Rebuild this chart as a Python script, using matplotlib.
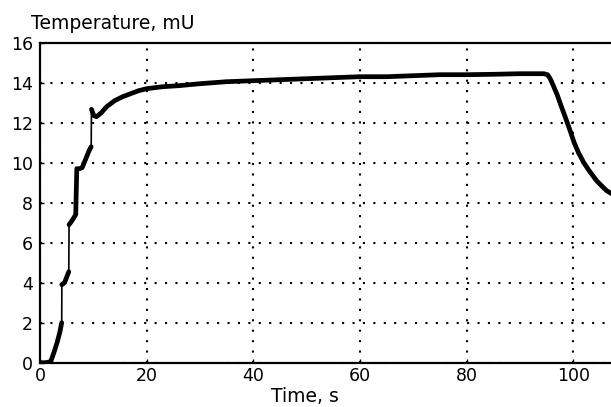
import numpy as np
import matplotlib
matplotlib.use("Agg")
import matplotlib.pyplot as plt

plt.rcParams['font.family'] = ['DejaVu Sans']

time_s = [0.0, 1.0, 2.0, 2.6, 3.2, 3.7, 4.07, 4.1, 4.6, 5.4, 5.45, 6.0, 6.7, 6.9, 7.4, 7.9, 8.6, 9.2, 9.6, 9.65,
          10.1, 10.6, 11.5, 12.5, 14.0, 15.5, 17.0, 18.5, 20.0, 23.0, 26.0, 30.0, 35.0, 40.0, 45.0, 50.0,
          55.0, 60.0, 65.0, 70.0, 75.0, 80.0, 85.0, 90.0, 93.0, 94.5, 95.2, 95.7, 96.2, 97.0, 97.8, 98.5,
          99.3, 100.2, 101.0, 102.0, 103.0, 104.4, 105.5, 106.3, 107.2]
temp_mu = [0.0, 0.0, 0.05, 0.5, 1.0, 1.5, 2.0, 3.9, 4.0, 4.55, 6.9, 7.1, 7.4, 9.7, 9.7, 9.75, 10.2, 10.6, 10.8, 12.67,
           12.35, 12.3, 12.5, 12.8, 13.1, 13.3, 13.45, 13.6, 13.7, 13.8, 13.85, 13.95, 14.05, 14.1, 14.15, 14.2,
           14.25, 14.3, 14.3, 14.35, 14.4, 14.4, 14.42, 14.45, 14.45, 14.45, 14.4, 14.2, 13.9, 13.4, 12.8, 12.3,
           11.7, 11.0, 10.5, 10.0, 9.6, 9.1, 8.8, 8.6, 8.45]

xticks = [0, 20, 40, 60, 80, 100]
yticks = [0, 2, 4, 6, 8, 10, 12, 14, 16]

fig = plt.figure(figsize=(6.11, 4.07), dpi=100)
ax = fig.add_axes([40/611, (407-362.7)/407, (611-40)/611, 320/407])

t = np.array(time_s)
v = np.array(temp_mu)
ax.plot(t, v, color='black', lw=1.2, solid_capstyle='round', zorder=3)
slope = np.abs(np.diff(v)) / np.maximum(np.diff(t), 1e-6)
tt, vv = [t[0]], [v[0]]
for i in range(1, len(t)):
    if slope[i-1] > 20:
        tt.append(np.nan); vv.append(np.nan)
    tt.append(t[i]); vv.append(v[i])
ax.plot(tt, vv, color='black', lw=3.4, solid_capstyle='round', solid_joinstyle='round', zorder=4)

ax.set_xlim(0, 107.1)
ax.set_ylim(0, 16)
ax.set_xticks(xticks)
ax.set_yticks(yticks)
ax.tick_params(direction='in', length=3, width=1, labelsize=12.5, colors='black')
ax.tick_params(axis='y', pad=5)
ax.tick_params(axis='x', pad=3)
ax.grid(True, color='black', linestyle=(0, (1, 4.0)), linewidth=1.5)
for s in ['left', 'bottom', 'top']:
    ax.spines[s].set_linewidth(1.6)
ax.spines['right'].set_visible(False)

fig.text(31/611, 1 - 29/407, 'Temperature, mU', fontsize=13.5, ha='left', va='baseline')
fig.text(305/611, 1/407, 'Time, s', fontsize=13.5, ha='center', va='bottom')

fig.savefig('out.png', dpi=100)
